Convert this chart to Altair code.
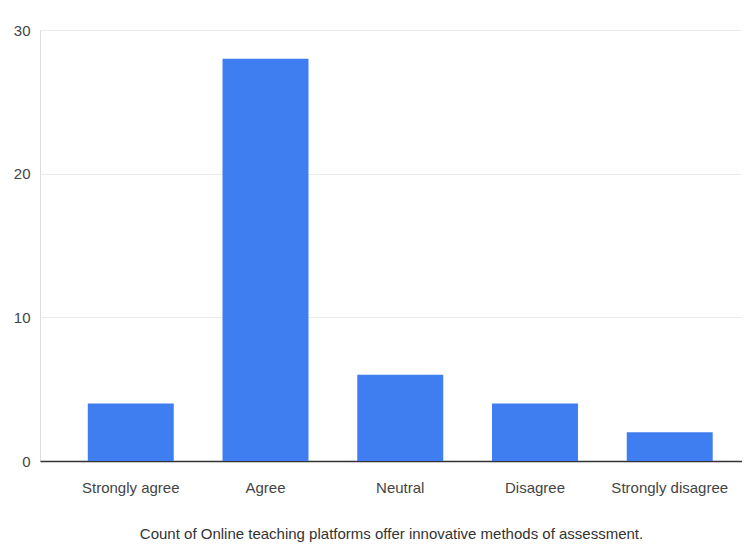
import altair as alt
import pandas as pd

categories = ["Strongly agree", "Agree", "Neutral", "Disagree", "Strongly disagree"]
counts = [4, 28, 6, 4, 2]
y_ticks = [0, 10, 20, 30]
x_title = "Count of Online teaching platforms offer innovative methods of assessment."

df = pd.DataFrame({"response": categories, "count": counts})

FONT = "Liberation Sans Narrow, Liberation Sans, Arial"

chart = alt.Chart(df).mark_bar(color="#3f7ef0").encode(
    x=alt.X(
        "response:N",
        sort=categories,
        scale=alt.Scale(paddingInner=0.362, paddingOuter=0.286, align=0.62),
        axis=alt.Axis(
            title=x_title,
            labelAngle=0,
            labelFont=FONT,
            labelFontSize=15,
            labelColor="#444444",
            labelPadding=19,
            ticks=False,
            domainColor="#333333",
            domainWidth=1.5,
            titleFont=FONT,
            titleFontSize=15,
            titleFontWeight="normal",
            titleColor="#333333",
            titlePadding=31,
        ),
    ),
    y=alt.Y(
        "count:Q",
        scale=alt.Scale(domain=[0, 30], nice=False),
        axis=alt.Axis(
            title=None,
            values=y_ticks,
            labelFont=FONT,
            labelFontSize=15,
            labelColor="#444444",
            labelPadding=10,
            ticks=False,
            domain=False,
            gridColor="#ececec",
            gridWidth=1,
        ),
    ),
).properties(
    width=702,
    height=431,
    autosize=alt.AutoSizeParams(type="none"),
    padding={"left": 32, "top": 22, "right": 0, "bottom": 82},
).configure_view(stroke=None).configure(background="white")

chart.save("out.html", embed_options={"renderer": "svg", "actions": False})
